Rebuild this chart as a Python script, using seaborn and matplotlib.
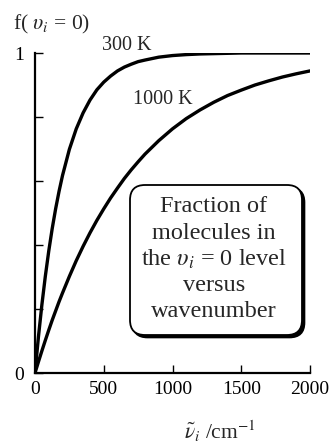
import numpy as np
import pandas as pd
import matplotlib
matplotlib.use("Agg")
import matplotlib.pyplot as plt
from matplotlib.patches import FancyBboxPatch
import seaborn as sns

# Fraction of molecules in the ground vibrational level vs wavenumber
wavenumber = [0, 25, 50, 75, 100, 125, 150, 175, 200, 250, 300, 350, 400, 450,
              500, 550, 600, 650, 700, 750, 800, 900, 1000, 1100, 1200, 1300,
              1400, 1500, 1600, 1700, 1800, 1900, 2000]
frac_300K = [0.0, 0.113, 0.213, 0.302, 0.381, 0.451, 0.513, 0.568, 0.617, 0.699,
             0.763, 0.813, 0.853, 0.885, 0.909, 0.928, 0.944, 0.956, 0.965,
             0.973, 0.978, 0.987, 0.992, 0.995, 0.997, 0.998, 0.999, 1.0, 1.0,
             1.0, 1.0, 1.0, 1.0]
frac_1000K = [0.0, 0.035, 0.069, 0.102, 0.134, 0.165, 0.194, 0.223, 0.250, 0.302,
              0.351, 0.396, 0.438, 0.477, 0.513, 0.547, 0.578, 0.608, 0.635,
              0.660, 0.684, 0.726, 0.763, 0.795, 0.822, 0.846, 0.867, 0.884,
              0.900, 0.913, 0.925, 0.935, 0.944]
x_ticks = [0, 500, 1000, 1500, 2000]
y_ticks = [0, 0.2, 0.4, 0.6, 0.8, 1.0]
y_tick_labels = ["0", "", "", "", "", "1"]

sns.set_theme(style="ticks")
plt.rcParams["font.family"] = ["Liberation Serif", "DejaVu Serif"]
plt.rcParams["mathtext.fontset"] = "stix"

W, H = 332, 447
fig = plt.figure(figsize=(W / 100, H / 100), dpi=100)
ax = fig.add_axes([35 / W, (H - 373) / H, 275 / W, 320 / H])

df = pd.DataFrame({
    "nu": wavenumber * 2,
    "f": frac_300K + frac_1000K,
    "T": ["300 K"] * len(wavenumber) + ["1000 K"] * len(wavenumber),
})
sns.lineplot(data=df, x="nu", y="f", units="T", estimator=None,
             color="black", linewidth=2.4, ax=ax, legend=False)

ax.set_xlim(0, 2000)
ax.set_ylim(0, 1)
ax.set_xticks(x_ticks)
ax.set_xticklabels([str(v) for v in x_ticks])
ax.set_yticks(y_ticks)
ax.set_yticklabels(y_tick_labels)
ax.tick_params(axis="both", direction="in", length=6, width=1.0,
               labelsize=14, colors="black")
ax.tick_params(axis="x", pad=6)
ax.tick_params(axis="y", pad=8)
sns.despine(ax=ax)
for s in ("left", "bottom"):
    ax.spines[s].set_linewidth(1.6)
    ax.spines[s].set_color("black")
ax.set_xlabel("")
ax.set_ylabel("")

def px(x, y):
    return x / W, 1 - y / H

fig.text(*px(13, 24), r"f( $\upsilon_i$ = 0)", fontsize=15.5, ha="left", va="center")
fig.text(*px(102, 45), "300 K", fontsize=14.5, ha="left", va="center")
fig.text(*px(133, 100), "1000 K", fontsize=14.5, ha="left", va="center")
fig.text(*px(220, 431), r"$\tilde{\nu}_i$ /cm$^{-1}$", fontsize=15.5,
         ha="center", va="center")

# Rounded caption box with a dark offset edge
r = 0.15
x0, y0, x1, y1 = 1.30, (H - 335) / 100, 3.02, (H - 185) / 100
shadow = FancyBboxPatch((x0 + r + 0.025, y0 + r - 0.025), x1 - x0 - 2 * r,
                        y1 - y0 - 2 * r, boxstyle=f"round,pad={r}",
                        transform=fig.dpi_scale_trans, facecolor="black",
                        edgecolor="black", linewidth=1.2)
box = FancyBboxPatch((x0 + r, y0 + r), x1 - x0 - 2 * r, y1 - y0 - 2 * r,
                     boxstyle=f"round,pad={r}", transform=fig.dpi_scale_trans,
                     facecolor="white", edgecolor="black", linewidth=1.3)
fig.patches.extend([shadow, box])

lines = ["Fraction of", "molecules in", r"the $\upsilon_i$ = 0 level",
         "versus", "wavenumber"]
for i, t in enumerate(lines):
    fig.text(*px(214, 207 + 26.2 * i), t, fontsize=17.5, ha="center", va="center")

fig.savefig("out.png", dpi=100)
